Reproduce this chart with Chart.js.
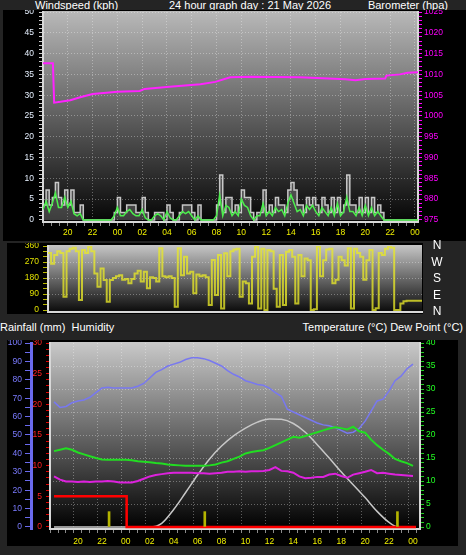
<!DOCTYPE html>
<html>
<head>
<meta charset="utf-8">
<script src="https://cdn.jsdelivr.net/npm/chart.js@4.4.1/dist/chart.umd.min.js"></script>
<style>
  body { margin:0; background:#242424; width:466px; height:555px; overflow:hidden; position:relative;
         font-family:'Liberation Sans', Arial, sans-serif; }
  .lbl { position:absolute; color:#fff; font-size:11px; line-height:12px; white-space:nowrap; }
  .cmp { position:absolute; color:#fff; font-size:12px; line-height:14px; width:16px; left:429px; text-align:center; }
  canvas { position:absolute; background:#000; }
</style>
</head>
<body>
<div class="lbl" style="left:35px;top:-1px">Windspeed (kph)</div>
<div class="lbl" style="left:250px;top:-1px;transform:translateX(-50%)">24 hour graph day : 21 May 2026</div>
<div class="lbl" style="right:18px;top:-1px">Barometer (hpa)</div>
<canvas id="wind" width="463" height="231" style="left:3px;top:10px"></canvas>

<canvas id="dir" width="416" height="71" style="left:7px;top:243px"></canvas>
<div class="cmp" style="top:238px">N</div>
<div class="cmp" style="top:255px">W</div>
<div class="cmp" style="top:271px">S</div>
<div class="cmp" style="top:288px">E</div>
<div class="cmp" style="top:304px">N</div>

<div class="lbl" style="left:0;top:321px">Rainfall (mm)&nbsp; Humidity</div>
<div class="lbl" style="right:3px;top:321px">Temperature (°C) Dew Point (°C)</div>
<canvas id="temp" width="451" height="206" style="left:7px;top:340px"></canvas>

<script>
// time axis runs from 18:00 the day before to just past midnight (hours)
const tStart = 18, tEnd = 48.25;

// wind, sampled every 15 minutes from 18:00 (kph)
const windStep = 0.25;
const gust = [
  3.6, 7.2, 3.6, 5.4, 9.0, 5.4, 3.6, 7.2, 3.6, 7.2,
  1.8, 1.8, 3.6, 0, 0, 0, 0, 0, 0, 0,
  0, 0, 0, 1.8, 5.4, 1.8, 1.8, 3.6, 3.6, 3.6,
  1.8, 1.8, 5.4, 1.8, 0, 0, 1.8, 1.8, 1.8, 0,
  3.6, 1.8, 0, 0, 1.8, 3.6, 3.6, 3.6, 1.8, 0,
  3.6, 0, 0, 0, 0, 0, 3.6, 10.8, 1.8, 5.4,
  5.4, 1.8, 3.6, 1.8, 7.2, 5.4, 5.4, 1.8, 0, 1.8,
  1.8, 7.2, 1.8, 3.6, 1.8, 5.4, 3.6, 3.6, 1.8, 7.2,
  9.0, 7.2, 3.6, 3.6, 1.8, 5.4, 3.6, 5.4, 3.6, 1.8,
  5.4, 3.6, 1.8, 5.4, 1.8, 5.4, 1.8, 3.6, 10.8, 3.6,
  3.6, 1.8, 5.4, 1.8, 5.4, 1.8, 5.4, 1.8, 3.6, 1.8,
  0, 0, 0, 0, 0, 0, 0, 0, 0, 0,
  0, 0
];
const avgWind = [
  2.5, 4.5, 2, 4, 6.5, 3, 3, 5.5, 3, 4.5,
  1.5, 1, 1.5, 0, 0, 0, 0, 0, 0, 0,
  0, 0, 0, 1, 3, 1, 1, 2, 2.5, 1.5,
  1, 1, 2.5, 0.5, 0, 0, 1, 1.5, 1, 0,
  2, 0.5, 0, 0, 1, 2, 1.5, 2, 1, 0,
  1, 0, 0, 0, 0, 0, 1, 6, 1, 3.5,
  3, 1, 2, 1, 5, 3.5, 3, 1, 0, 1,
  1, 4, 1, 2, 1, 3, 2, 2.5, 1, 4,
  6, 4, 2, 2.5, 1, 3.5, 2.5, 3.5, 2, 1,
  3, 2, 1, 3, 1, 4, 1, 2, 5.5, 2,
  2, 1, 3, 1, 3.5, 1, 3, 1, 2, 1,
  0, 0, 0, 0, 0, 0, 0, 0, 0, 0,
  0, 0
];
// wind direction (degrees), same 15 minute samples
const windDir = [
  320, 260, 310, 330, 320, 75, 330, 345, 350, 330,
  56, 337, 320, 355, 330, 206, 131, 234, 169, 47,
  169, 180, 190, 195, 170, 175, 150, 175, 205, 221,
  160, 215, 122, 185, 180, 160, 347, 190, 185, 190,
  180, 19, 347, 196, 300, 206, 215, 94, 200, 190,
  195, 185, 28, 281, 84, 309, 9, 319, 190, 330,
  340, 345, 75, 160, 150, 37, 300, 356, 9, 345,
  0, 337, 330, 120, 19, 309, 28, 328, 337, 300,
  37, 309, 190, 290, 280, 0, 5, 356, 190, 280,
  340, 345, 150, 170, 300, 280, 250, 347, 9, 345,
  320, 300, 170, 280, 337, 0, 10, 320, 310, 345,
  356, 350, 0, 0, 37, 50, 52, 52, 52, 52,
  52, 52
];

// barometer (hpa)
const baroHours  = [18, 18.8, 18.9, 19.4, 20.2, 21, 22, 24, 25.8, 26.2, 28.2, 30.7, 31.9, 33.1, 34.7, 38.7, 42.4, 43.2, 44, 45.6, 45.7, 46.8, 47.4, 48.25];
const baroValues = [1012.7, 1012.7, 1003.2, 1003.4, 1003.8, 1004.5, 1005.3, 1005.8, 1006.0, 1006.5, 1007.0, 1007.6, 1008.2, 1009.3, 1009.4, 1009.3, 1008.8, 1008.6, 1008.9, 1009.0, 1009.7, 1010.0, 1010.4, 1010.5];

// half-hourly readings from 18:00
const thStep = 0.5;
const humidity = [
  68, 65, 65.5, 67.5, 68.5, 69, 70.5, 73, 75.5, 76,
  75.5, 75.5, 75.5, 75.5, 76.5, 78, 81, 84, 85.5, 87.5,
  88.5, 89.5, 91, 92, 92, 91.5, 90.5, 89, 87.5, 85,
  83, 81.5, 79.5, 78.5, 77.5, 77, 75.5, 73, 71, 64,
  62.5, 61, 59.5, 58, 56.5, 55.5, 55, 54, 52.5, 51,
  51.5, 53.5, 57.5, 63, 68.5, 69.5, 74, 79.5, 82, 86,
  88.5
];
const temperature = [
  16.5, 16.8, 17.1, 16.8, 16.2, 15.8, 15.4, 15, 14.7, 14.6,
  14.6, 14.6, 14.6, 14.5, 14.3, 14.2, 14.1, 13.9, 13.8, 13.6,
  13.5, 13.4, 13.3, 13.3, 13.3, 13.3, 13.4, 13.6, 14, 14.3,
  14.8, 15.3, 16, 16.3, 16.5, 16.7, 17.2, 17.8, 18.4, 19,
  19.6, 19.4, 19.8, 20.2, 20.6, 21, 21.4, 21.7, 21.5, 21.2,
  21.8, 20.8, 20.5, 19, 17.8, 16.8, 15.9, 14.8, 14.3, 13.9,
  13.3
];
const dewPoint = [
  11, 10.3, 9.9, 9.9, 9.8, 9.9, 9.8, 9.9, 9.9, 10,
  9.9, 9.7, 9.7, 9.7, 10, 10.5, 11, 11.3, 11.5, 11.7,
  11.8, 11.8, 11.8, 11.8, 11.7, 11.7, 11.6, 11.7, 11.8, 12,
  12, 12.1, 12, 12.1, 12.1, 12.2, 12.4, 13, 12.2, 12.1,
  11.8, 11, 10.6, 10.7, 10.9, 10.9, 11.4, 11.6, 11.1, 10.7,
  11.4, 11.7, 12, 12.4, 11.7, 11.8, 11.6, 11.4, 11.3, 11.2,
  11.1
];

// grey daylight curve, read on the temperature axis
const solarHours  = [18, 26, 27, 28, 29, 30, 31, 32, 33, 34, 35, 36, 37, 38, 39, 40, 41, 42, 43, 44, 45, 46, 46.75, 48.25];
const solarValues = [0, 0, 0.8, 3.8, 7.5, 11.3, 14.8, 17.6, 19.8, 21.5, 22.8, 23.5, 23.4, 22.5, 20.6, 17.9, 15.0, 12.0, 9.2, 6.4, 3.4, 1.0, 0, 0];

// rainfall (mm)
const rainHours  = [18, 24.07, 48.25];
const rainValues = [5, 0, 0];
const rainRateHours  = [22.6, 30.6, 46.7];
const rainRateValues = [2.5, 2.5, 2.5];

// ---------------------------------------------------------------

const series = (start, step, vals) => vals.map((v, i) => ({ x: start + i * step, y: v }));
const pairs = (xs, ys) => xs.map((x, i) => ({ x: x, y: ys[i] }));

Chart.defaults.font.family = "'Liberation Sans', Arial, sans-serif";
Chart.defaults.font.size = 8.5;
Chart.defaults.color = '#fff';

const gridCol = 'rgba(255,255,255,0.33)';
const edgeCol = '#d8d8d8';

// tick positions every 40 minutes, labelled every 2 hours
const hourTicks = [];
for (let k = 0; k <= 45; k++) hourTicks.push(tStart + k * 2 / 3);

const hourLabel = (value, index) => {
  if (index % 3 !== 0 || index === 0) return '';
  return String(Math.round(value) % 24).padStart(2, '0');
};
const steps = (from, to, step) => {
  const out = [];
  for (let v = from; v <= to; v += step) out.push(v);
  return out;
};
const fixTicks = (vals) => (s) => { s.ticks = vals.map(v => ({ value: v })); };
const fitW = (w) => (s) => { s.width = w; s.paddingTop = 0; s.paddingBottom = 0; };
const fitH = (h) => (s) => { s.height = h; s.paddingLeft = 0; s.paddingRight = 0; };

// grey-to-black plot background
const plotBg = {
  id: 'plotBg',
  beforeDraw(chart, args, opts) {
    const { ctx, chartArea: a } = chart;
    const g = ctx.createLinearGradient(0, a.top, 0, a.bottom);
    g.addColorStop(0, opts.top);
    g.addColorStop(1, opts.bottom);
    ctx.save();
    ctx.fillStyle = g;
    ctx.fillRect(a.left, a.top - 1, a.right - a.left, a.bottom - a.top + 1);
    ctx.restore();
  }
};

const timeAxis = (height, pad) => ({
  type: 'linear', min: tStart, max: tEnd,
  afterBuildTicks: fixTicks(hourTicks),
  afterFit: fitH(height),
  grid: { color: c => c.index % 3 === 0 ? gridCol : 'transparent', tickColor: '#8a8a8a', tickLength: 4 },
  border: { color: edgeCol, width: 2, dash: [1, 2] },
  ticks: { color: '#f0f000', autoSkip: false, maxRotation: 0, padding: pad, callback: hourLabel }
});

const baseOpts = {
  responsive: false,
  animation: false,
  devicePixelRatio: 1,
  events: [],
  elements: { point: { radius: 0 }, line: { tension: 0 } }
};

// ---- windspeed + barometer
new Chart(document.getElementById('wind'), {
  type: 'line',
  data: {
    datasets: [
      { data: pairs(baroHours, baroValues), yAxisID: 'yBaro', borderColor: '#ff22ff', borderWidth: 2 },
      { data: series(tStart, windStep, avgWind), yAxisID: 'yWind', borderColor: '#4cee4c', borderWidth: 1.5 },
      { data: series(tStart, windStep, gust), yAxisID: 'yWind', stepped: true,
        borderColor: 'rgba(215,215,215,0.9)', borderWidth: 1.5,
        fill: 'origin', backgroundColor: 'rgba(190,190,190,0.3)' }
    ]
  },
  options: Object.assign({}, baseOpts, {
    layout: { padding: { top: 2, left: 0, right: 0, bottom: 0 } },
    plugins: { legend: { display: false }, tooltip: { enabled: false },
               plotBg: { top: '#b8b8b8', bottom: '#050505' } },
    scales: {
      x: timeAxis(19, 2),
      yWind: {
        position: 'left', min: -0.5, max: 50,
        afterBuildTicks: fixTicks(steps(0, 50, 1)),
        afterFit: fitW(40),
        grid: { color: c => (c.tick.value % 5 === 0 && c.tick.value > 0) ? gridCol : 'transparent', tickColor: '#cccccc', tickLength: 4 },
        border: { color: edgeCol, width: 2, dash: [1, 2] },
        ticks: { color: '#e6f0ff', padding: 5, autoSkip: false, callback: v => v % 5 === 0 ? v : '' }
      },
      yBaro: {
        position: 'right', min: 974.5, max: 1025,
        afterBuildTicks: fixTicks(steps(975, 1025, 1)),
        afterFit: fitW(48),
        grid: { drawOnChartArea: false, tickColor: '#ff00ff', tickLength: 4 },
        border: { color: edgeCol, width: 2 },
        ticks: { color: '#ff00ff', padding: 2, autoSkip: false, callback: v => v % 5 === 0 ? v : '' }
      }
    }
  }),
  plugins: [plotBg]
});

// ---- wind direction
new Chart(document.getElementById('dir'), {
  type: 'line',
  data: {
    datasets: [
      { data: series(tStart, windStep, windDir), yAxisID: 'yDir', stepped: true,
        borderColor: 'rgba(232,232,40,0.78)', borderWidth: 2 }
    ]
  },
  options: Object.assign({}, baseOpts, {
    layout: { padding: { top: 3, left: 0, right: 1, bottom: 0 } },
    plugins: { legend: { display: false }, tooltip: { enabled: false },
               plotBg: { top: '#c4c4c4', bottom: '#0a0a0a' } },
    scales: {
      x: {
        type: 'linear', min: tStart, max: tEnd,
        afterFit: fitH(2),
        grid: { display: false },
        border: { color: edgeCol, width: 2 },
        ticks: { display: false }
      },
      yDir: {
        position: 'left', min: -11, max: 360,
        afterBuildTicks: fixTicks(steps(0, 360, 30)),
        afterFit: fitW(41),
        grid: { color: c => (c.tick.value % 90 === 0 && c.tick.value > 0 && c.tick.value < 360) ? gridCol : 'transparent',
                tickColor: '#b8b800', tickLength: 5 },
        border: { color: edgeCol, width: 2, dash: [1, 2] },
        ticks: { color: '#e0e000', padding: 4, autoSkip: false, callback: v => v % 90 === 0 ? v : '' }
      }
    }
  }),
  plugins: [plotBg]
});

// ---- rain, humidity, temperature, dew point
new Chart(document.getElementById('temp'), {
  type: 'line',
  data: {
    datasets: [
      { type: 'bar', data: pairs(rainRateHours, rainRateValues), yAxisID: 'yRain',
        backgroundColor: '#b4b400', barThickness: 2 },
      { data: pairs(rainHours, rainValues), yAxisID: 'yRain', stepped: true,
        borderColor: '#ff0000', borderWidth: 2.5 },
      { data: series(tStart, thStep, temperature), yAxisID: 'yTemp', borderColor: '#22dd22', borderWidth: 2 },
      { data: series(tStart, thStep, dewPoint), yAxisID: 'yTemp', borderColor: '#dd22dd', borderWidth: 2 },
      { data: series(tStart, thStep, humidity), yAxisID: 'yHum', borderColor: '#7878f0', borderWidth: 1.5 },
      { data: pairs(solarHours, solarValues), yAxisID: 'yTemp', borderColor: '#c8c8c8', borderWidth: 1.5,
        cubicInterpolationMode: 'monotone' }
    ]
  },
  options: Object.assign({}, baseOpts, {
    layout: { padding: { top: 3, left: 0, right: 0, bottom: 0 } },
    plugins: { legend: { display: false }, tooltip: { enabled: false },
               plotBg: { top: '#c8c8c8', bottom: '#000000' } },
    scales: {
      x: timeAxis(17, 4),
      yHum: {
        position: 'left', weight: 1, min: -1.1, max: 100,
        afterBuildTicks: fixTicks(steps(0, 100, 5)),
        afterFit: fitW(24),
        grid: { drawOnChartArea: false, tickColor: '#6a6aee', tickLength: 6 },
        border: { color: '#6a6aee', width: 3 },
        ticks: { color: '#7b7bff', padding: 3, autoSkip: false, callback: v => v % 10 === 0 ? v : '' }
      },
      yRain: {
        position: 'left', weight: 0, min: -0.33, max: 30,
        afterBuildTicks: fixTicks(steps(0, 30, 1)),
        afterFit: fitW(19),
        grid: { drawOnChartArea: false, tickColor: '#e00000', tickLength: 4 },
        border: { color: edgeCol, width: 2 },
        ticks: { color: '#ff2020', padding: 4, autoSkip: false, callback: v => v % 5 === 0 ? v : '' }
      },
      yTemp: {
        position: 'right', min: -0.43, max: 40,
        afterBuildTicks: fixTicks(steps(0, 40, 1)),
        afterFit: fitW(38),
        grid: { color: c => (c.tick.value % 5 === 0 && c.tick.value > 0 && c.tick.value < 40) ? gridCol : 'transparent',
                tickColor: '#20d020', tickLength: 4 },
        border: { color: edgeCol, width: 2, dash: [1, 2] },
        ticks: { color: '#22ff22', padding: 2, autoSkip: false, callback: v => v % 5 === 0 ? v : '' }
      }
    }
  }),
  plugins: [plotBg]
});
</script>
</body>
</html>
